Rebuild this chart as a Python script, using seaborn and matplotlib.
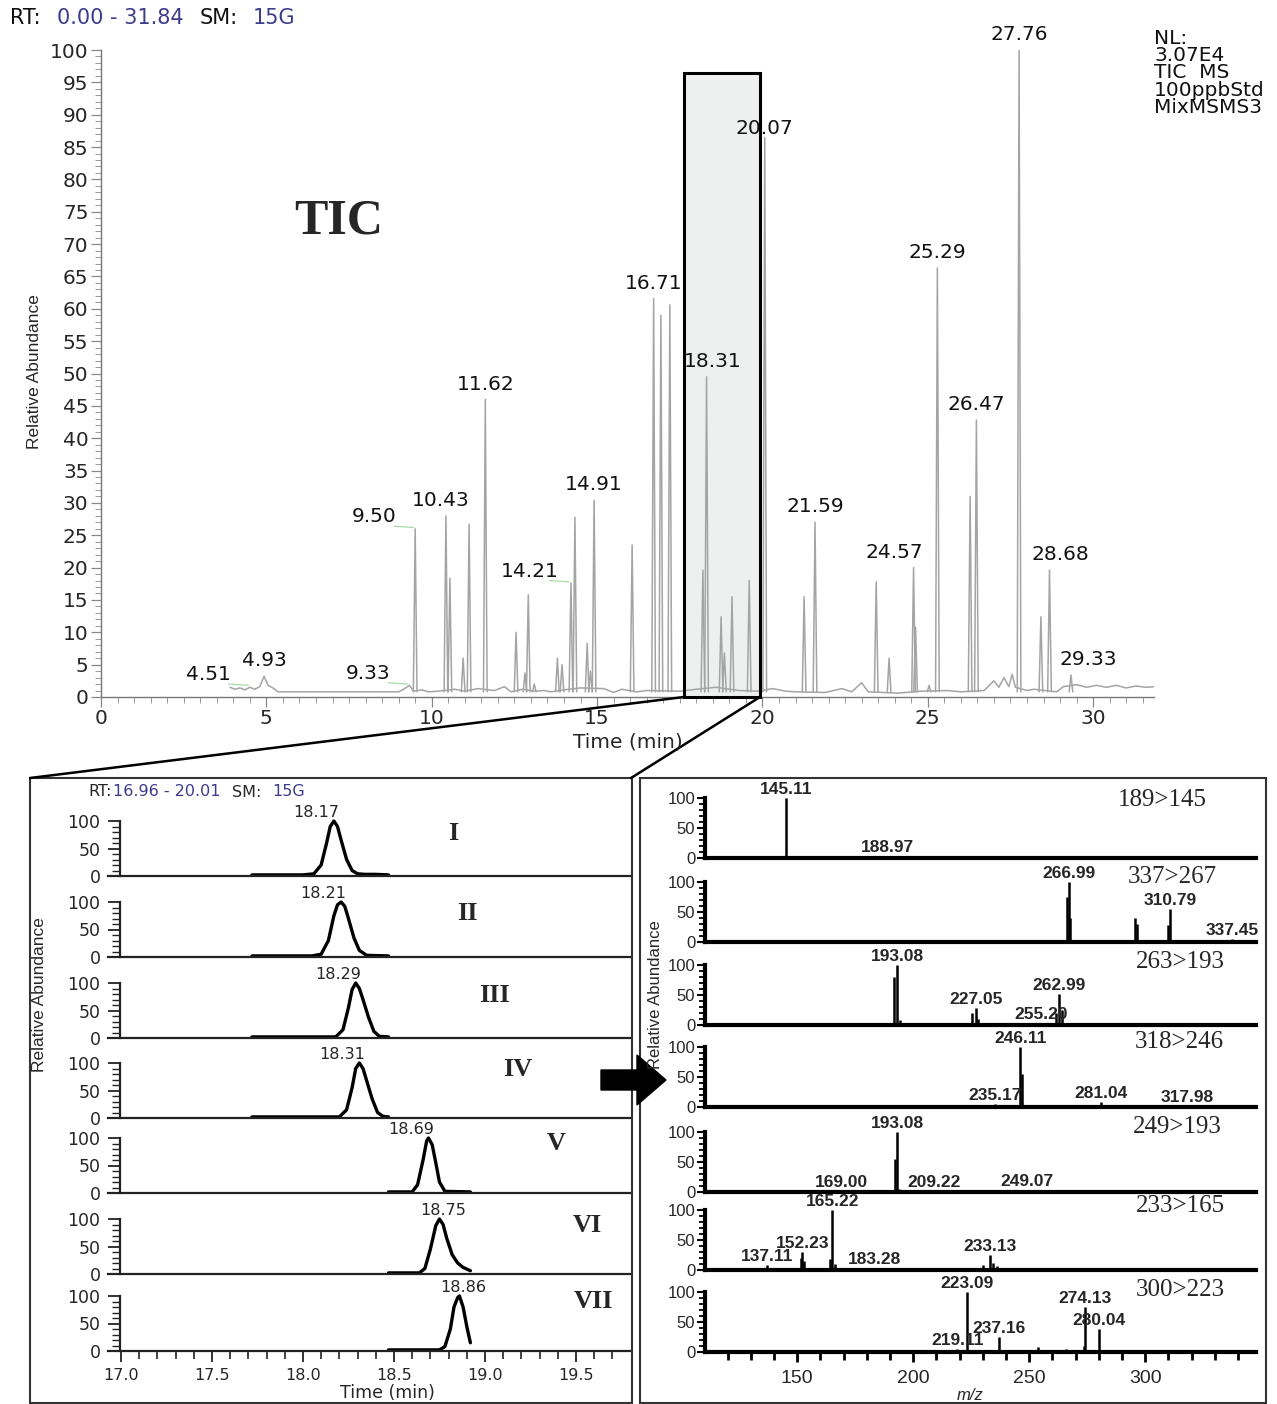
import numpy as np
import pandas as pd
import matplotlib
matplotlib.use("Agg")
import matplotlib.pyplot as plt
import seaborn as sns
from matplotlib.patches import Rectangle, Polygon
from matplotlib.lines import Line2D
from matplotlib.ticker import MultipleLocator, FixedLocator

# ---------------- DATA ----------------
# TIC baseline (time, rel. abundance)
tic_base_rt = [3.90, 4.05, 4.20, 4.35, 4.50, 4.65, 4.80, 4.93, 5.05, 5.20, 5.35, 9.00, 9.15, 9.33,
               9.45, 9.70, 9.90, 10.20, 10.70, 11.00, 11.40, 11.90, 12.20, 12.40, 12.75, 13.10,
               13.40, 13.60, 14.00, 14.50, 15.20, 15.50, 15.75, 16.20, 16.50, 17.50, 18.00, 18.60,
               19.30, 19.90, 20.30, 20.70, 21.00, 21.90, 22.40, 22.70, 23.00, 23.20, 24.10, 24.80,
               25.60, 26.00, 26.70, 27.00, 27.15, 27.30, 27.45, 27.55, 27.65, 28.00, 28.20, 28.90,
               29.10, 29.50, 29.80, 30.10, 30.40, 30.70, 31.00, 31.30, 31.60, 31.84]
tic_base_val = [1.5, 1.2, 1.4, 1.1, 1.5, 1.2, 1.6, 3.2, 1.8, 1.4, 0.8, 0.8, 1.2, 1.8,
                0.9, 1.1, 0.8, 0.9, 1.2, 0.9, 1.3, 1.0, 1.6, 0.8, 1.2, 0.9,
                1.0, 0.8, 1.1, 1.4, 1.3, 0.7, 1.2, 0.8, 1.0, 0.9, 1.2, 1.5,
                1.0, 0.9, 1.3, 0.9, 0.8, 0.7, 1.3, 0.8, 2.2, 0.8, 0.6, 0.9,
                1.0, 0.8, 1.0, 2.5, 1.5, 3.0, 1.6, 3.5, 1.5, 1.0, 1.2, 0.8,
                1.6, 1.9, 1.5, 1.8, 1.5, 1.8, 1.4, 1.7, 1.5, 1.6]
# TIC peaks
tic_peak_rt = [9.50, 10.43, 10.55, 10.95, 11.13, 11.62, 12.55, 12.82, 12.92, 13.10, 13.80, 13.94,
               14.21, 14.33, 14.70, 14.80, 14.91, 16.06, 16.71, 16.93, 17.20, 18.20, 18.31, 18.75,
               18.85, 19.08, 19.60, 20.07, 21.26, 21.59, 23.44, 23.83, 24.57, 24.63, 25.04, 25.29,
               26.28, 26.47, 27.76, 28.42, 28.68, 29.33]
tic_peak_h = [26.0, 28.0, 18.4, 6.0, 26.7, 46.0, 10.0, 3.7, 15.8, 2.0, 6.0, 5.0,
              17.6, 27.8, 8.3, 4.0, 30.4, 23.5, 61.6, 59.0, 60.6, 19.6, 49.5, 12.4,
              6.8, 15.5, 18.0, 86.5, 15.5, 27.0, 17.8, 6.0, 20.0, 10.8, 1.8, 66.3,
              31.0, 42.8, 100.0, 12.4, 19.6, 3.4]
# TIC peak labels: retention time label, anchor height
tic_label_rt = [4.93, 10.43, 11.62, 14.91, 16.71, 18.31, 20.07, 21.59, 24.57, 25.29, 26.47, 27.76,
                28.68, 29.33]
tic_label_h = [3.2, 28.0, 46.0, 30.4, 61.6, 49.5, 85.5, 27.0, 20.0, 66.3, 42.8, 100.0, 19.6, 3.4]
# labels drawn to the left with leader line
tic_side_rt = [4.51, 9.33, 9.50, 14.21]
tic_side_h = [1.6, 1.8, 26.0, 17.6]

# SRM chromatograms (zoom 16.96 - 20.01 min)
srm_names = ["I", "II", "III", "IV", "V", "VI", "VII"]
srm_apex = [18.17, 18.21, 18.29, 18.31, 18.69, 18.75, 18.86]
srm_t = [
    [17.72, 18.00, 18.06, 18.10, 18.13, 18.15, 18.17, 18.19, 18.21, 18.24, 18.27, 18.30, 18.34, 18.40, 18.47],
    [17.72, 18.05, 18.10, 18.14, 18.17, 18.19, 18.21, 18.23, 18.25, 18.28, 18.31, 18.35, 18.47],
    [17.72, 18.18, 18.22, 18.25, 18.27, 18.29, 18.31, 18.33, 18.36, 18.39, 18.42, 18.47],
    [17.72, 18.20, 18.24, 18.27, 18.29, 18.31, 18.33, 18.35, 18.38, 18.41, 18.44, 18.47],
    [18.47, 18.60, 18.63, 18.66, 18.68, 18.69, 18.71, 18.73, 18.75, 18.78, 18.92],
    [18.47, 18.64, 18.67, 18.70, 18.73, 18.75, 18.77, 18.79, 18.82, 18.85, 18.88, 18.92],
    [18.47, 18.75, 18.78, 18.81, 18.83, 18.85, 18.86, 18.88, 18.90, 18.92],
]
srm_y = [
    [2, 2, 4, 20, 60, 90, 100, 90, 65, 30, 10, 4, 3, 3, 2],
    [2, 2, 5, 30, 75, 95, 100, 92, 70, 35, 12, 3, 2],
    [2, 2, 15, 55, 88, 100, 90, 70, 38, 12, 3, 2],
    [2, 2, 15, 55, 90, 100, 90, 68, 35, 10, 3, 2],
    [2, 2, 15, 60, 95, 100, 88, 55, 20, 3, 2],
    [2, 2, 10, 45, 88, 100, 90, 65, 35, 20, 12, 6],
    [2, 2, 8, 40, 80, 97, 100, 80, 45, 15],
]

# MS/MS spectra
ms_trans = ["189>145", "337>267", "263>193", "318>246", "249>193", "233>165", "300>223"]
ms_mz = [
    [145.11, 163.0, 188.97],
    [266.5, 266.99, 267.6, 295.6, 296.3, 309.8, 310.79, 337.45],
    [191.6, 193.08, 194.2, 225.2, 227.05, 228.0, 255.20, 261.8, 262.99, 264.0],
    [235.17, 246.11, 247.0, 281.04, 282.2, 317.98],
    [169.00, 192.0, 193.08, 194.0, 209.22, 249.07],
    [137.11, 151.5, 152.23, 153.0, 164.2, 165.22, 166.2, 170.0, 175.0, 183.28, 190.0,
     230.0, 233.13, 234.5, 236.0],
    [219.11, 223.09, 237.16, 245.0, 254.0, 266.0, 273.5, 274.13, 280.04, 300.0],
]
ms_int = [
    [100, 4, 3],
    [75, 100, 40, 40, 30, 28, 55, 5],
    [80, 100, 8, 20, 28, 10, 3, 20, 52, 25],
    [5, 100, 55, 8, 4, 2],
    [2, 55, 100, 5, 2, 3],
    [8, 20, 30, 15, 18, 100, 10, 4, 3, 3, 3, 8, 25, 12, 6],
    [5, 100, 25, 3, 8, 5, 10, 75, 38, 2],
]
ms_labels = [
    ["145.11", "", "188.97"],
    ["", "266.99", "", "", "", "", "310.79", "337.45"],
    ["", "193.08", "", "", "227.05", "", "255.20", "", "262.99", ""],
    ["235.17", "246.11", "", "281.04", "", "317.98"],
    ["169.00", "", "193.08", "", "209.22", "249.07"],
    ["137.11", "", "152.23", "", "", "165.22", "", "", "", "183.28", "", "", "233.13", "", ""],
    ["219.11", "223.09", "237.16", "", "", "", "", "274.13", "280.04", ""],
]

# ---------------- LAYOUT HELPERS ----------------
W, H = 1277, 1404
def fx(x): return x / W
def fy(y): return 1 - y / H
def box(l, t, r, b): return [fx(l), fy(b), (r - l) / W, (b - t) / H]

sns.set_theme(style="ticks")
plt.rcParams['font.family'] = ['DejaVu Sans']
plt.rcParams['axes.linewidth'] = 1.0

fig = plt.figure(figsize=(W / 100, H / 100), dpi=100)
fig.patch.set_facecolor("white")

GREY = "#a4a4a4"
BLUE = "#3c3c8c"
NARROW = ['Liberation Sans Narrow', 'Liberation Sans', 'DejaVu Sans']
ARIAL = ['Liberation Sans', 'DejaVu Sans']
SERIF = ['Liberation Serif', 'DejaVu Serif']

# ---------------- TIC ----------------
ax = fig.add_axes(box(101, 50, 1154, 697))
ax.set_xlim(0, 31.84)
ax.set_ylim(0, 100)

# zoom window
ax.add_patch(Rectangle((17.63, 0), 19.93 - 17.63, 96.4, facecolor="#eef0f0",
                       edgecolor="none", zorder=0.5))

sns.lineplot(x=tic_base_rt, y=tic_base_val, estimator=None, sort=False, color=GREY,
             lw=1.1, ax=ax, zorder=2)
hw = 0.055
rows = []
for i, (rt, h) in enumerate(zip(tic_peak_rt, tic_peak_h)):
    rows += [(i, rt - hw, 0.8), (i, rt, h), (i, rt + hw, 0.8)]
peaks_df = pd.DataFrame(rows, columns=["pk", "rt", "ab"])
sns.lineplot(data=peaks_df, x="rt", y="ab", units="pk", estimator=None, sort=False,
             color=GREY, lw=1.1, ax=ax, zorder=2)

ax.add_patch(Rectangle((17.63, 0), 19.93 - 17.63, 96.4, facecolor="none",
                       edgecolor="black", lw=2.2, zorder=3, clip_on=False))

# label nudges (minutes) to mimic the instrument's label placement
nudge = {10.43: -0.15, 18.31: 0.18, 24.57: -0.57, 28.68: 0.33, 29.33: 0.52}
for rt, h in zip(tic_label_rt, tic_label_h):
    ax.text(rt + nudge.get(rt, 0.0), h + 0.9, f"{rt:.2f}", ha="center", va="bottom",
            fontsize=14.5, color="#111", zorder=4, clip_on=False)
for rt, h in zip(tic_side_rt, tic_side_h):
    x_end = rt - 0.05
    x_txt = rt - 1.25
    ax.plot([x_txt + 0.6, x_end], [h + 0.4, h + 0.2], color="#a8dca8", lw=0.9, zorder=1)
    ax.text(x_txt, h + 0.4, f"{rt:.2f}", ha="center", va="bottom", fontsize=14.5, color="#111")

ax.set_xticks(range(0, 31, 5))
ax.set_yticks(range(0, 101, 5))
ax.xaxis.set_minor_locator(MultipleLocator(0.5))
ax.yaxis.set_minor_locator(MultipleLocator(1))
ax.tick_params(which="major", length=7, width=0.9, color="#888", labelsize=14.5, pad=2)
ax.tick_params(which="minor", length=4, width=0.7, color="#999")
ax.set_xlabel("")
ax.set_ylabel("")
for s in ["top", "right"]:
    ax.spines[s].set_visible(False)
for s in ["left", "bottom"]:
    ax.spines[s].set_color("#777")
ax.spines["left"].set_bounds(0, 100)

fig.text(fx(628), fy(742), "Time (min)", ha="center", va="center", fontsize=14.5)
fig.text(fx(35), fy(372), "Relative Abundance", rotation=90, ha="center", va="center",
         fontsize=12.5, family=NARROW)
fig.text(fx(10), fy(18), "RT:", ha="left", va="center", fontsize=15, color="#111")
fig.text(fx(57), fy(18), "0.00 - 31.84", ha="left", va="center", fontsize=15, color=BLUE)
fig.text(fx(200), fy(18), "SM:", ha="left", va="center", fontsize=15, color="#111")
fig.text(fx(253), fy(18), "15G", ha="left", va="center", fontsize=15, color=BLUE)
fig.text(fx(1154), fy(29), "NL:\n3.07E4\nTIC  MS\n100ppbStd\nMixMSMS3", ha="left", va="top",
         fontsize=14.5, linespacing=0.88, color="#111")
fig.text(fx(339), fy(221), "TIC", ha="center", va="center", fontsize=36, fontweight="bold",
         family=SERIF)

# connector lines
fig.add_artist(Line2D([fx(684), fx(30)], [fy(697), fy(778)], color="black", lw=1.8))
fig.add_artist(Line2D([fx(760), fx(631)], [fy(697), fy(778)], color="black", lw=1.8))

# panel frames
fig.add_artist(Rectangle((fx(30), fy(1403)), (632 - 30) / W, (1403 - 778) / H, fill=False,
                         transform=fig.transFigure, lw=1.5, ec="#333"))
fig.add_artist(Rectangle((fx(640), fy(1403)), (1266 - 640) / W, (1403 - 778) / H, fill=False,
                         transform=fig.transFigure, lw=1.5, ec="#333"))

# arrow
arrow_px = [(601, 1070), (637, 1070), (637, 1055), (666, 1080), (637, 1105), (637, 1090), (601, 1090)]
fig.add_artist(Polygon([(fx(a), fy(b)) for a, b in arrow_px], closed=True, transform=fig.transFigure,
                       facecolor="black", edgecolor="black"))

# ---------------- SRM PANELS ----------------
base_L = [876, 957, 1038, 1118, 1193, 1274, 1351]
tops_L = [796] + base_L[:-1]
roman_px = [(453, 833), (467, 914), (495, 995), (518, 1070), (556, 1143), (587, 1226), (594, 1302)]
label_ha = ["right", "right", "right", "right", "right", "center", "center"]
for i in range(7):
    a = fig.add_axes(box(108, tops_L[i], 630, base_L[i]))
    a.patch.set_alpha(0)
    sns.lineplot(x=srm_t[i], y=srm_y[i], estimator=None, sort=False, color="black", lw=2.4, ax=a)
    a.set_xlim(16.929, 19.797)
    a.set_ylim(0, 100 * (base_L[i] - tops_L[i]) / 55)
    a.set_yticks([0, 50, 100])
    a.yaxis.set_minor_locator(FixedLocator(list(range(0, 101, 10))))
    a.spines["left"].set_bounds(0, 100)
    a.spines["left"].set_position(("data", 16.995))
    for s in ["top", "right"]:
        a.spines[s].set_visible(False)
    a.spines["bottom"].set_linewidth(1.6)
    a.spines["bottom"].set_color("#222")
    a.spines["left"].set_linewidth(1.6)
    a.spines["left"].set_color("#222")
    a.tick_params(axis="y", which="major", length=9, width=1.3, labelsize=12.5, pad=5, color="#222")
    a.tick_params(axis="y", which="minor", length=6, width=1.0, color="#222")
    a.set_xlabel("")
    a.set_ylabel("")
    ha = label_ha[i]
    dx = 0.03 if ha == "right" else 0.02
    a.text(srm_apex[i] + dx, 101, f"{srm_apex[i]:.2f}", ha=ha, va="bottom", fontsize=11.5,
           clip_on=False)
    fig.text(fx(roman_px[i][0]), fy(roman_px[i][1]), srm_names[i], ha="center", va="center",
             fontsize=19, fontweight="bold", family=SERIF)
    if i < 6:
        a.set_xticks([])
        a.tick_params(axis="x", which="both", length=0)
    else:
        a.set_xticks(np.arange(17.0, 19.6, 0.5))
        a.set_xticklabels([f"{v:.1f}" for v in np.arange(17.0, 19.6, 0.5)])
        a.xaxis.set_minor_locator(FixedLocator(list(np.arange(17.0, 19.8, 0.1))))
        a.tick_params(axis="x", which="major", length=8, width=1.3, labelsize=11.5, pad=4, color="#222")
        a.tick_params(axis="x", which="minor", length=6, width=1.2, color="#222")

fig.text(fx(88), fy(791), "RT:", ha="left", va="center", fontsize=11.5)
fig.text(fx(113), fy(791), "16.96 - 20.01", ha="left", va="center", fontsize=11.5, color=BLUE)
fig.text(fx(232), fy(793), "SM:", ha="left", va="center", fontsize=11.5)
fig.text(fx(272), fy(791), "15G", ha="left", va="center", fontsize=11.5, color=BLUE)
fig.text(fx(387), fy(1393), "Time (min)", ha="center", va="center", fontsize=12.5)
fig.text(fx(40), fy(995), "Relative Abundance", rotation=90, ha="center", va="center",
         fontsize=12.5, family=ARIAL)

# ---------------- MS PANELS ----------------
base_R = [858, 942, 1025, 1107, 1192, 1270, 1352]
tops_R = [778] + base_R[:-1]
trans_px = [(1162, 800), (1172, 877), (1180, 962), (1179, 1042), (1177, 1127), (1180, 1206),
            (1180, 1290)]
for i in range(7):
    a = fig.add_axes(box(705, tops_R[i], 1256, base_R[i]))
    a.patch.set_alpha(0)
    a.vlines(ms_mz[i], 0, ms_int[i], color="black", lw=1.8)
    a.set_xlim(110.3, 347.8)
    a.set_ylim(0, 100 * (base_R[i] - tops_R[i]) / 60)
    for mz, it, lab in zip(ms_mz[i], ms_int[i], ms_labels[i]):
        if lab:
            a.text(mz, it + 2, lab, ha="center", va="bottom", fontsize=12.5, fontweight="bold",
                   family=NARROW, clip_on=False)
    a.set_yticks([0, 50, 100])
    a.yaxis.set_minor_locator(FixedLocator(list(range(0, 101, 10))))
    a.spines["left"].set_bounds(0, 100)
    for s in ["top", "right"]:
        a.spines[s].set_visible(False)
    a.spines["bottom"].set_linewidth(3)
    a.spines["left"].set_linewidth(3)
    a.spines["bottom"].set_color("black")
    a.spines["left"].set_color("black")
    a.tick_params(axis="y", which="major", length=6, width=1.5, labelsize=12, pad=1, color="black")
    a.tick_params(axis="y", which="minor", length=4, width=1.3, color="black")
    for t in a.get_yticklabels():
        t.set_family(NARROW)
    fig.text(fx(trans_px[i][0]), fy(trans_px[i][1]), ms_trans[i], ha="center", va="center",
             fontsize=18, family=SERIF)
    a.set_xlabel("")
    a.set_ylabel("")
    if i < 6:
        a.set_xticks([])
        a.tick_params(axis="x", which="both", length=0)
    else:
        a.set_xticks([150, 200, 250, 300])
        a.xaxis.set_minor_locator(FixedLocator(list(range(120, 346, 10))))
        a.tick_params(axis="x", which="major", length=7, width=2, labelsize=14, pad=6, color="black")
        a.tick_params(axis="x", which="minor", length=6, width=2, color="black")
        for t in a.get_xticklabels():
            t.set_family(NARROW)

fig.text(fx(656), fy(995), "Relative Abundance", rotation=90, ha="center", va="center",
         fontsize=12, family=NARROW)
fig.text(fx(970), fy(1396), "m/z", ha="center", va="center", fontsize=12, style="italic",
         family=NARROW)

fig.savefig("out.png", dpi=100, facecolor="white")
